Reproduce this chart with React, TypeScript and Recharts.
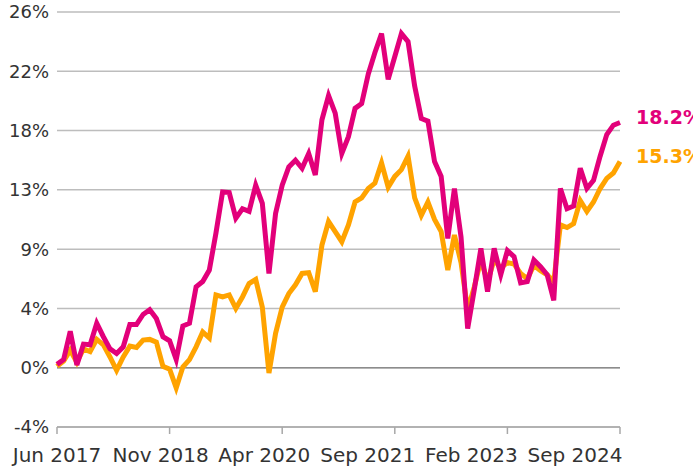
import React from 'react';
import { LineChart, Line, XAxis, YAxis, CartesianGrid, ReferenceLine, LabelList } from 'recharts';

const MONTHS = ['Jan', 'Feb', 'Mar', 'Apr', 'May', 'Jun', 'Jul', 'Aug', 'Sep', 'Oct', 'Nov', 'Dec'];

function monthRange(y0: number, m0: number, y1: number, m1: number): string[] {
  const out: string[] = [];
  let y = y0;
  let m = m0;
  while (y < y1 || (y === y1 && m <= m1)) {
    out.push(`${MONTHS[m]} ${y}`);
    m += 1;
    if (m > 11) { m = 0; y += 1; }
  }
  return out;
}

// categories (period end labels)
const dates: string[] = [
  ...monthRange(2017, 5, 2023, 1),
  ...monthRange(2023, 4, 2024, 8),
];

const tickLabels = ['Jun 2017', 'Nov 2018', 'Apr 2020', 'Sep 2021', 'Feb 2023', 'Sep 2024'];

const yTicks = [-4.4, 0, 4.4, 8.8, 13.2, 17.6, 22, 26.4];

const magentaSeries = [
  0.25, 0.6, 2.7, 0.2, 1.75, 1.7, 3.3, 2.3, 1.4, 1.05,
  1.55, 3.2, 3.2, 3.95, 4.3, 3.65, 2.3, 2.0, 0.6, 3.1,
  3.3, 6.0, 6.4, 7.25, 10.0, 13.05, 13.0, 11.1, 11.8, 11.6,
  13.55, 12.2, 7.0, 11.45, 13.55, 14.9, 15.4, 14.8, 15.9, 14.3,
  18.4, 20.2, 18.9, 15.9, 17.15, 19.25, 19.6, 21.8, 23.4, 24.8,
  21.4, 23.1, 24.8, 24.2, 20.9, 18.5, 18.3, 15.3, 14.2, 9.6,
  13.3, 9.7, 2.9, 5.8, 8.85, 5.65, 8.85, 6.9, 8.7, 8.25,
  6.3, 6.4, 8.0, 7.5, 6.9, 5.0, 13.3, 11.8, 12.0, 14.8,
  13.3, 13.9, 15.7, 17.3, 18.0, 18.2,
];

const orangeSeries = [
  0.1, 0.5, 1.3, 0.4, 1.4, 1.2, 2.1, 1.7, 0.8, -0.2,
  0.8, 1.6, 1.5, 2.05, 2.1, 1.9, 0.1, -0.1, -1.5, 0.05,
  0.6, 1.55, 2.65, 2.2, 5.4, 5.25, 5.4, 4.4, 5.25, 6.25,
  6.55, 4.5, -0.4, 2.55, 4.5, 5.5, 6.15, 7.0, 7.05, 5.65,
  9.1, 10.85, 10.1, 9.35, 10.6, 12.3, 12.6, 13.3, 13.7, 15.2,
  13.4, 14.2, 14.7, 15.7, 12.6, 11.3, 12.3, 11.0, 10.1, 7.25,
  9.85, 7.8, 4.3, 6.0, 8.0, 6.4, 8.0, 7.4, 7.8, 7.7,
  7.0, 6.6, 7.6, 7.2, 6.9, 6.4, 10.6, 10.4, 10.7, 12.4,
  11.6, 12.3, 13.3, 14.05, 14.45, 15.3,
];

const MAGENTA = '#E2007A';
const ORANGE = '#FFA300';
const FONT = '"DejaVu Sans", sans-serif';

const data = dates.map((d, i) => ({ date: d, m: magentaSeries[i], o: orangeSeries[i] }));
const lastIndex = data.length - 1;

const XTick = (props: any) => {
  const { x, y, payload } = props;
  const k = tickLabels.indexOf(payload.value);
  return (
    <text x={x - k * 9} y={y} dy="0.71em" textAnchor="middle" fill="#333" fontSize={20} fontFamily={FONT}>
      {payload.value}
    </text>
  );
};

const endLabel = (color: string) => (props: any) => {
  const { x, y, index, value } = props;
  if (index !== lastIndex) return null;
  return (
    <text x={x + 16} y={y - 5} dy="0.36em" textAnchor="start" fill={color} fontSize={19} fontWeight="bold" fontFamily={FONT}>
      {`${Number(value).toFixed(1)}%`}
    </text>
  );
};

export default function App() {
  return (
    <div style={{ position: 'absolute', left: 0, top: 0, background: '#fff' }}>
      <LineChart width={693} height={473} data={data} margin={{ top: 12, right: 73, bottom: 16, left: 0 }}>
        <CartesianGrid vertical={false} stroke="#bdbdbd" strokeWidth={1.5} />
        <XAxis
          dataKey="date"
          ticks={tickLabels}
          interval={0}
          tick={<XTick />}
          tickSize={7}
          tickMargin={14}
          height={30}
          axisLine={{ stroke: '#a8a8a8', strokeWidth: 1.5 }}
          tickLine={{ stroke: '#a8a8a8', strokeWidth: 1.5 }}
        />
        <YAxis
          type="number"
          domain={[-4.4, 26.4]}
          ticks={yTicks}
          interval={0}
          width={57}
          axisLine={false}
          tickLine={false}
          tickFormatter={(v: number) => `${Math.round(v)}%`}
          tick={{ fill: '#333', fontSize: 18, fontFamily: FONT }}
        />
        <ReferenceLine y={0} stroke="#8c8c8c" strokeWidth={1.5} />
        <Line type="linear" dataKey="o" stroke={ORANGE} strokeWidth={5} dot={false} isAnimationActive={false}>
          <LabelList dataKey="o" content={endLabel(ORANGE)} />
        </Line>
        <Line type="linear" dataKey="m" stroke={MAGENTA} strokeWidth={5} dot={false} isAnimationActive={false}>
          <LabelList dataKey="m" content={endLabel(MAGENTA)} />
        </Line>
      </LineChart>
    </div>
  );
}
